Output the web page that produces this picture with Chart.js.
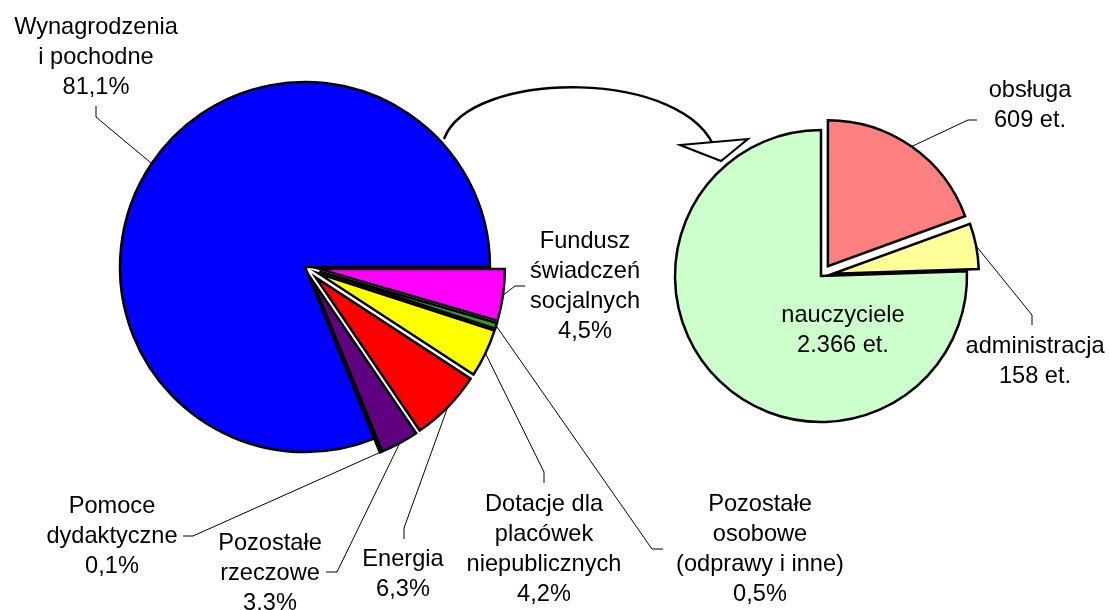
<!DOCTYPE html>
<html>
<head>
<meta charset="utf-8">
<script src="https://cdn.jsdelivr.net/npm/chart.js@4.4.0/dist/chart.umd.min.js"></script>
<style>
  html, body { margin: 0; padding: 0; background: #fff; }
  #wrap { position: relative; width: 1109px; height: 610px; overflow: hidden; }
  #wrap canvas { position: absolute; left: 0; top: 0; }
</style>
</head>
<body>
<div id="wrap">
  <canvas id="costs" width="1109" height="610"></canvas>
  <canvas id="staff" width="1109" height="610"></canvas>
</div>
<script>
'use strict';
// expenses structure (%), clockwise from 3 o'clock
const costNames = [
  ['Fundusz', 'świadczeń', 'socjalnych'],
  ['Pozostałe', 'osobowe', '(odprawy i inne)'],
  ['Dotacje dla', 'placówek', 'niepublicznych'],
  ['Energia'],
  ['Pozostałe', 'rzeczowe'],
  ['Pomoce', 'dydaktyczne'],
  ['Wynagrodzenia', 'i pochodne'],
];
const costShares = [4.5, 0.5, 4.2, 6.3, 3.3, 0.1, 81.1];

// staff (etaty), clockwise from 12 o'clock
const staffNames = [['obsługa'], ['administracja'], ['nauczyciele']];
const staffCounts = [609, 158, 2366];

// styles
const costColors = ['#FF00FF', '#339933', '#FFFF00', '#FF0000', '#5E0080', '#663300', '#0000FF'];
const costExplode = [15, 15, 15, 15, 15, 15, 0];
const staffColors = ['#FF8080', '#FFFF99', '#CCFFCC'];
const staffExplode = [12, 12, 0];

// label layout: tx/ty = centre x / first baseline, lead = points from text towards slice
const costLabelPos = [
  { tx: 585, ty: 248, lead: [[525, 286], [515, 286]] },
  { tx: 760, ty: 511, lead: [[663, 549], [652, 549]] },
  { tx: 544, ty: 511, lead: [[544, 483], [544, 472]] },
  { tx: 403, ty: 566, lead: [[404, 539], [404, 528]] },
  { tx: 270, ty: 550, lead: [[326, 572], [337, 572]] },
  { tx: 112, ty: 513, lead: [[183, 536], [193, 536]] },
  { tx: 96, ty: 34, lead: [[96, 106], [96, 117]] },
];
const staffLabelPos = [
  { tx: 1030, ty: 97, lead: [[977, 120], [968, 120]] },
  { tx: 1035, ty: 353, lead: [[1032, 325], [1032, 315]] },
  { tx: 843, ty: 322, lead: null },
];

const FONT = '23.6px "Liberation Sans", Arial, sans-serif';
const LINE = 30;

const fmtPct = v => v.toFixed(1).replace('.', ',') + '%';
const fmtEt = v => String(v).replace(/\B(?=(\d{3})+(?!\d))/g, '.') + ' et.';

// move exploded slices out along their bisector
const explodePlugin = {
  id: 'explode',
  beforeDatasetDraw(chart, args, opts) {
    const { chartArea } = chart;
    const cx = (chartArea.left + chartArea.right) / 2;
    const cy = (chartArea.top + chartArea.bottom) / 2;
    args.meta.data.forEach((arc, i) => {
      const d = opts.amounts[i] || 0;
      const mid = (arc.startAngle + arc.endAngle) / 2;
      arc.x = cx + Math.cos(mid) * d;
      arc.y = cy + Math.sin(mid) * d;
    });
  },
};

const labelPlugin = {
  id: 'sliceLabels',
  afterDraw(chart, args, opts) {
    const ctx = chart.ctx;
    const meta = chart.getDatasetMeta(0);
    const values = chart.data.datasets[0].data;
    ctx.save();
    ctx.font = FONT;
    ctx.fillStyle = '#000';
    ctx.textAlign = 'center';
    ctx.textBaseline = 'alphabetic';
    opts.names.forEach((lines, i) => {
      const pos = opts.pos[i];
      const all = lines.concat([opts.fmt(values[i])]);
      all.forEach((t, k) => ctx.fillText(t, pos.tx, pos.ty + k * opts.line));
      if (pos.lead) {
        const arc = meta.data[i];
        const mid = (arc.startAngle + arc.endAngle) / 2;
        const ax = arc.x + Math.cos(mid) * arc.outerRadius;
        const ay = arc.y + Math.sin(mid) * arc.outerRadius;
        ctx.strokeStyle = '#000';
        ctx.lineWidth = 1;
        ctx.beginPath();
        ctx.moveTo(pos.lead[0][0], pos.lead[0][1]);
        ctx.lineTo(pos.lead[1][0], pos.lead[1][1]);
        ctx.lineTo(ax, ay);
        ctx.stroke();
      }
    });
    if (opts.arrow) {
      // curved arrow from the wages slice to the staff pie
      ctx.lineWidth = 2.5;
      ctx.strokeStyle = '#000';
      ctx.beginPath();
      ctx.moveTo(444, 139);
      ctx.bezierCurveTo(470, 68, 690, 68, 716, 152);
      ctx.stroke();
      ctx.lineWidth = 2;
      ctx.fillStyle = '#fff';
      ctx.beginPath();
      ctx.moveTo(680, 145);
      ctx.lineTo(748, 139);
      ctx.lineTo(721, 161);
      ctx.closePath();
      ctx.fill();
      ctx.stroke();
    }
    ctx.restore();
  },
};

function pieChart(id, names, values, colors, explode, pos, fmt, radius, padding, rotation, arrow) {
  return new Chart(document.getElementById(id), {
    type: 'pie',
    data: {
      labels: names.map(n => n.join(' ')),
      datasets: [{
        data: values,
        backgroundColor: colors,
        borderColor: '#000',
        borderWidth: 2.5,
        borderJoinStyle: 'miter',
      }],
    },
    options: {
      responsive: false,
      animation: false,
      events: [],
      rotation: rotation,
      radius: radius,
      layout: { padding: padding },
      plugins: {
        legend: { display: false },
        tooltip: { enabled: false },
        explode: { amounts: explode },
        sliceLabels: { names: names, pos: pos, fmt: fmt, line: LINE, arrow: arrow },
      },
    },
    plugins: [explodePlugin, labelPlugin],
  });
}

pieChart('costs', costNames, costShares, costColors, costExplode, costLabelPos, fmtPct,
  185, { left: 0, top: 0, right: 499, bottom: 76 }, 90, true);
pieChart('staff', staffNames, staffCounts, staffColors, staffExplode, staffLabelPos, fmtEt,
  146, { left: 541, top: 0, right: 8, bottom: 58 }, 0, false);
</script>
</body>
</html>
